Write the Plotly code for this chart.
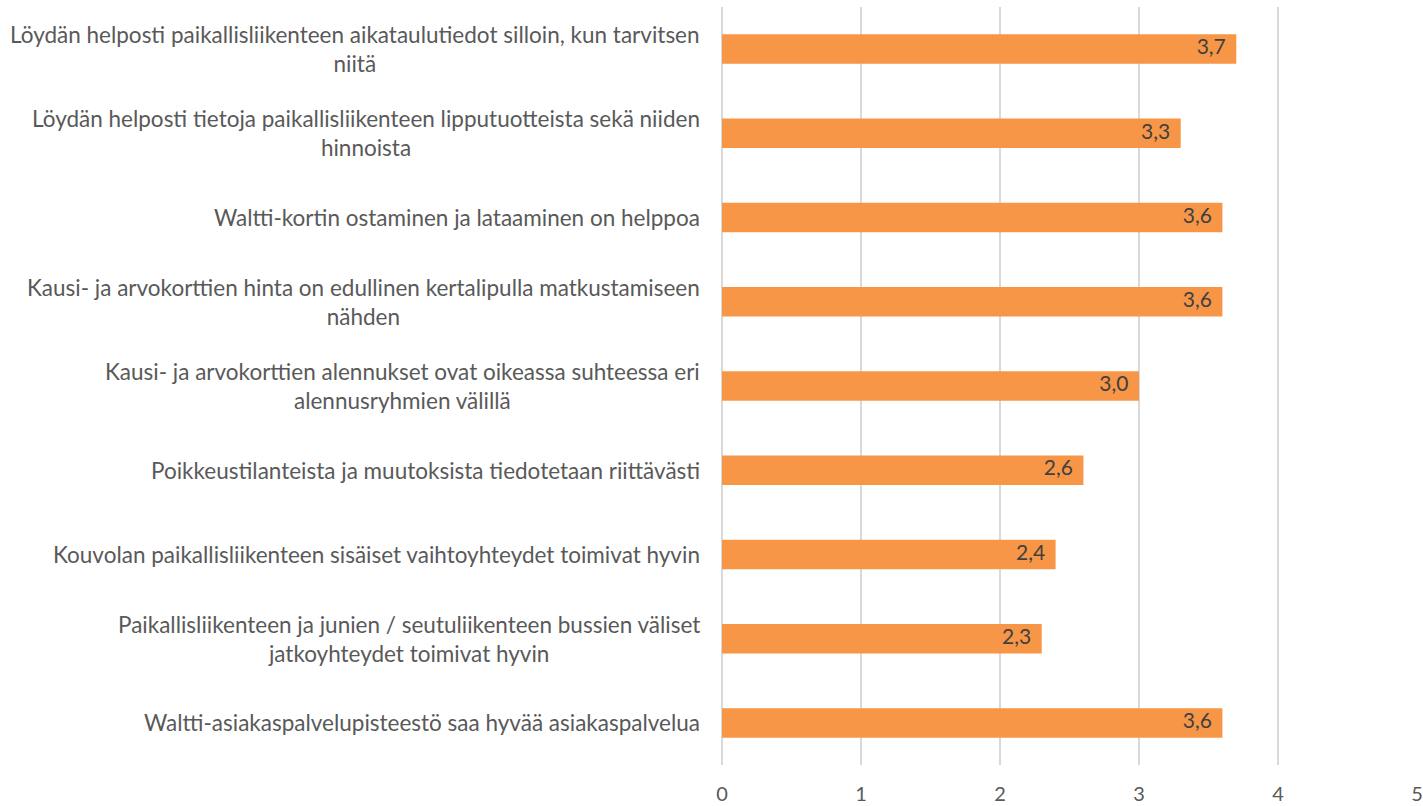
import plotly.graph_objects as go

categories = [
    "Löydän helposti paikallisliikenteen aikataulutiedot silloin, kun tarvitsen<br>niitä",
    "Löydän helposti tietoja paikallisliikenteen lipputuotteista sekä niiden<br>hinnoista",
    "Waltti-kortin ostaminen ja lataaminen on helppoa",
    "Kausi- ja arvokorttien hinta on edullinen kertalipulla matkustamiseen<br>nähden",
    "Kausi- ja arvokorttien alennukset ovat oikeassa suhteessa eri<br>alennusryhmien välillä",
    "Poikkeustilanteista ja muutoksista tiedotetaan riittävästi",
    "Kouvolan paikallisliikenteen sisäiset vaihtoyhteydet toimivat hyvin",
    "Paikallisliikenteen ja junien / seutuliikenteen bussien väliset<br>jatkoyhteydet toimivat hyvin",
    "Waltti-asiakaspalvelupisteestö saa hyvää asiakaspalvelua",
]
values = [3.7, 3.3, 3.6, 3.6, 3.0, 2.6, 2.4, 2.3, 3.6]
value_labels = ["3,7", "3,3", "3,6", "3,6", "3,0", "2,6", "2,4", "2,3", "3,6"]
x_ticks = [0, 1, 2, 3, 4, 5]

FONT = "Lato, Open Sans, sans-serif"
ids = list(range(len(categories)))

fig = go.Figure()
fig.add_trace(go.Bar(
    y=ids, x=values, orientation="h",
    marker=dict(color="#F79646", line=dict(width=0)),
    width=0.35, hoverinfo="skip",
))
fig.add_trace(go.Scatter(
    y=ids, x=values, mode="text",
    text=[v + "\u2002" for v in value_labels],
    textposition="middle left",
    textfont=dict(family=FONT, size=21, color="#404040"),
    cliponaxis=False, hoverinfo="skip",
))

for i, c in zip(ids, categories):
    fig.add_annotation(
        x=0, xref="x", y=i, yref="y", text=c, showarrow=False,
        xanchor="right", xshift=-20, align="center",
        font=dict(family=FONT, size=22.5, color="#595959"),
    )

fig.update_layout(
    width=1423, height=806,
    margin=dict(l=722, r=6, t=7, b=41, autoexpand=False),
    plot_bgcolor="white", paper_bgcolor="white",
    showlegend=False,
    xaxis=dict(range=[0, 5], tickvals=x_ticks, ticktext=[str(t) for t in x_ticks],
               automargin=False,
               showgrid=True, gridcolor="#D9D9D9", gridwidth=2,
               zeroline=True, zerolinecolor="#D9D9D9", zerolinewidth=2,
               showline=False, ticks="", ticklabelstandoff=15,
               ticklabeloverflow="allow",
               tickfont=dict(family=FONT, size=20, color="#595959")),
    yaxis=dict(range=[len(categories) - 0.5, -0.5], showticklabels=False,
               automargin=False,
               showgrid=False, zeroline=False, showline=False, ticks=""),
)

fig.write_html("out.html", config={"displayModeBar": False},
               post_script="document.body.style.margin='0px';document.body.style.overflow='hidden';")
